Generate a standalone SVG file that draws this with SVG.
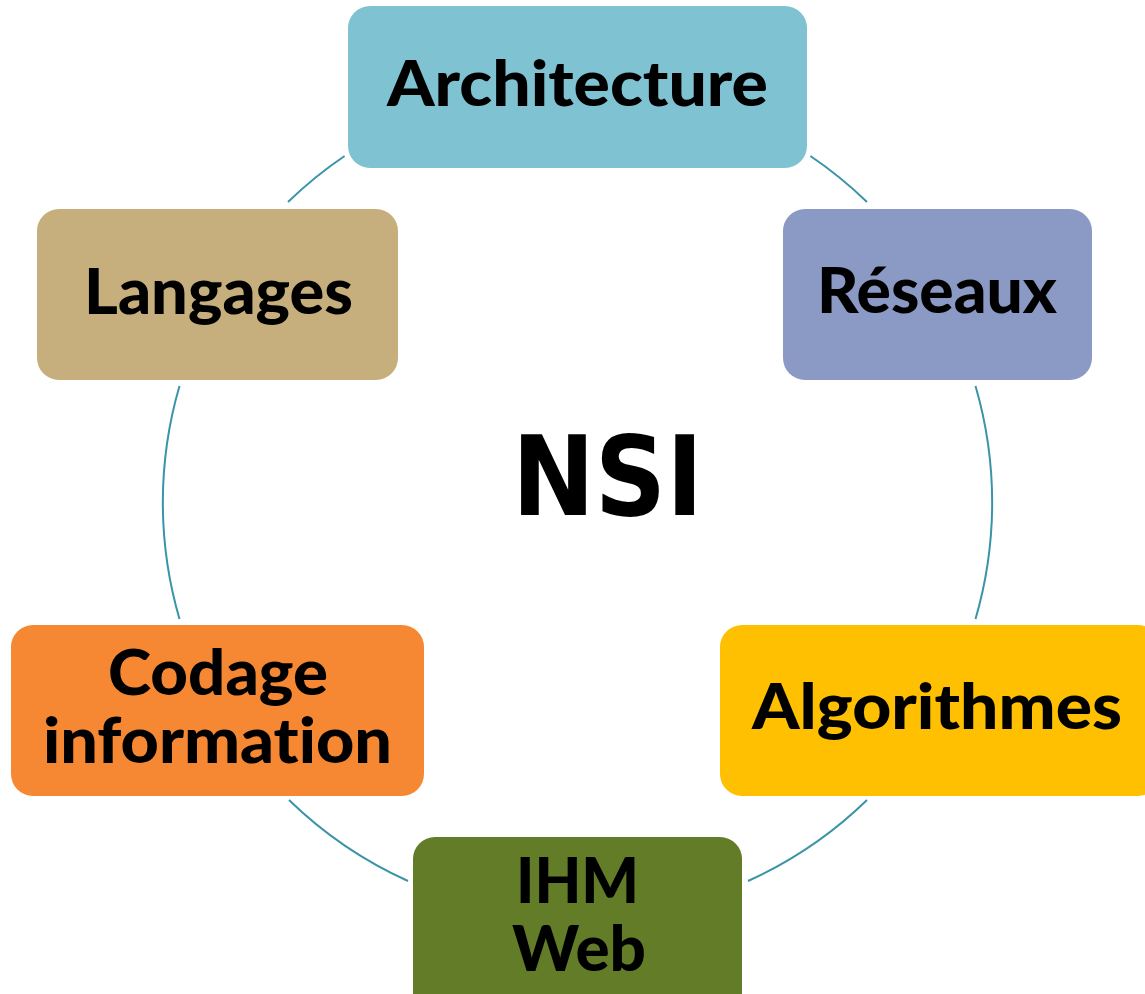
<svg xmlns="http://www.w3.org/2000/svg" width="1145" height="994" viewBox="0 0 1145 994">
<style>
.lbl{font-family:Lato,"Open Sans","Liberation Sans",sans-serif;font-weight:900;font-size:62px;fill:#000;font-variant-ligatures:none;font-feature-settings:"liga" 0;}
.arc{fill:none;stroke:#3A94A7;stroke-width:2;}
</style>
<rect width="1145" height="994" fill="#fff"/>
<g id="connectors">
<path class="arc" d="M810.4,156 A415.5,415.5 0 0 1 867,202"/>
<path class="arc" d="M288,202 A415.5,415.5 0 0 1 344.6,156"/>
<path class="arc" d="M179.5,386 A415.5,415.5 0 0 0 179.5,619"/>
<path class="arc" d="M975.5,386 A415.5,415.5 0 0 1 975.5,619"/>
<path class="arc" d="M867,800 A416,416 0 0 1 748,881"/>
<path class="arc" d="M289,800 A416,416 0 0 0 408,881"/>
</g>
<g id="center"><text x="607.5" y="515" text-anchor="middle" style="font-family:'DejaVu Sans',Verdana,sans-serif;font-weight:bold;font-size:110px" textLength="191" lengthAdjust="spacingAndGlyphs">NSI</text></g>
<g id="architecture">
<rect x="348" y="6" width="459" height="162" rx="22" fill="#7FC3D3"/>
<text class="lbl" x="577.5" y="106" text-anchor="middle" textLength="381" lengthAdjust="spacingAndGlyphs">Architecture</text>
</g>
<g id="reseaux">
<rect x="783" y="209" width="309" height="171" rx="22" fill="#8A9AC4"/>
<text class="lbl" x="937" y="313" text-anchor="middle" textLength="240" lengthAdjust="spacingAndGlyphs">Réseaux</text>
</g>
<g id="langages">
<rect x="37" y="209" width="361" height="171" rx="22" fill="#C6AF7C"/>
<text class="lbl" x="218.5" y="314" text-anchor="middle" textLength="269" lengthAdjust="spacingAndGlyphs">Langages</text>
</g>
<g id="algorithmes">
<rect x="720" y="625" width="440" height="171" rx="22" fill="#FEC000"/>
<text class="lbl" x="937" y="729" text-anchor="middle" textLength="370" lengthAdjust="spacingAndGlyphs">Algorithmes</text>
</g>
<g id="codage">
<rect x="11" y="625" width="413" height="171" rx="22" fill="#F68833"/>
<text class="lbl" x="218" y="695" text-anchor="middle" textLength="220" lengthAdjust="spacingAndGlyphs">Codage</text>
<text class="lbl" x="217.5" y="763" text-anchor="middle" textLength="349" lengthAdjust="spacingAndGlyphs">information</text>
</g>
<g id="ihmweb">
<rect x="413" y="837" width="329" height="180" rx="22" fill="#637C27"/>
<text class="lbl" x="577.5" y="903" text-anchor="middle" textLength="123" lengthAdjust="spacingAndGlyphs">IHM</text>
<text class="lbl" x="579" y="971" text-anchor="middle" textLength="134" lengthAdjust="spacingAndGlyphs">Web</text>
</g>
</svg>
